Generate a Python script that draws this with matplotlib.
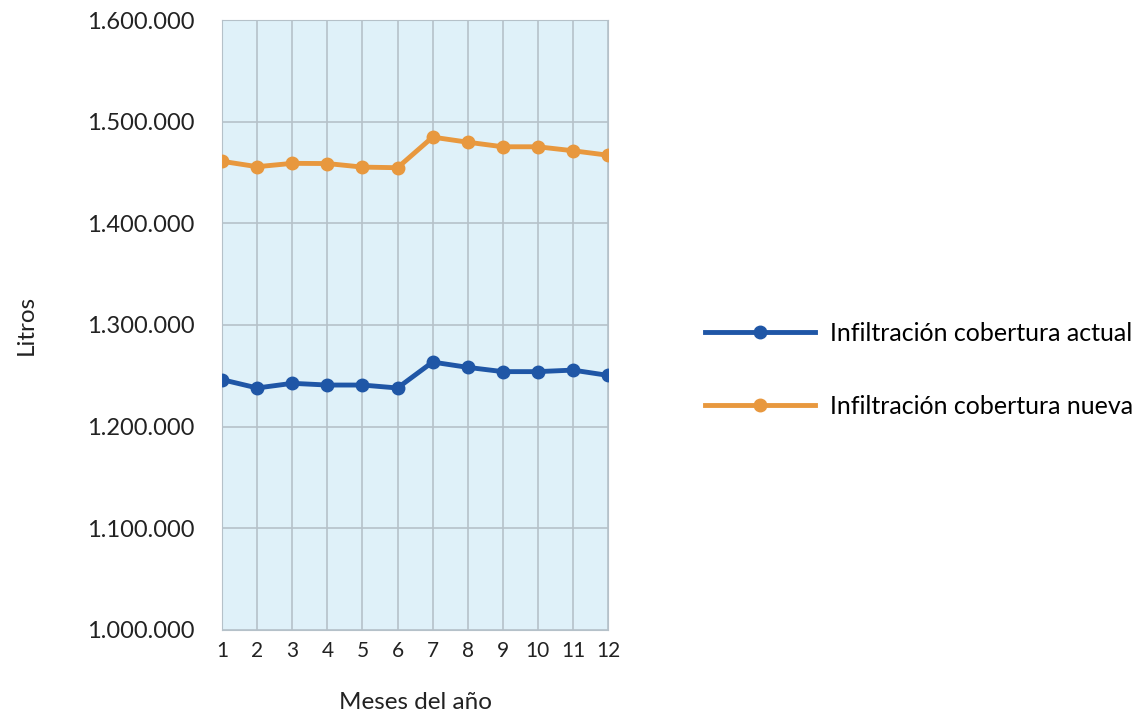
import matplotlib.pyplot as plt
from matplotlib.ticker import FuncFormatter

plt.rcParams['font.family'] = ['Lato', 'DejaVu Sans']

# Data
meses = [1, 2, 3, 4, 5, 6, 7, 8, 9, 10, 11, 12]
cobertura_actual = [1246200, 1238000, 1242600, 1240900, 1240900, 1238000,
                    1263500, 1258300, 1254100, 1254100, 1255600, 1250400]
cobertura_nueva = [1461000, 1455700, 1459000, 1458800, 1455300, 1454700,
                   1484800, 1479800, 1475300, 1475300, 1471400, 1467000]
y_ticks = [1000000, 1100000, 1200000, 1300000, 1400000, 1500000, 1600000]


def miles(v, pos):
    # thousands separator with dots
    return f"{int(v):,}".replace(",", ".")


fig = plt.figure(figsize=(11.45, 7.15), dpi=100)
ax = fig.add_axes([0.194, 0.119, 0.337, 0.853])
ax.set_facecolor('#dff1f9')

ax.plot(meses, cobertura_actual, color='#1f56a6', lw=3.5, marker='o', ms=9,
        label='Infiltración cobertura actual', zorder=3)
ax.plot(meses, cobertura_nueva, color='#e8983e', lw=3.5, marker='o', ms=9,
        label='Infiltración cobertura nueva', zorder=3)

ax.set_xlim(1, 12)
ax.set_ylim(1000000, 1600000)
ax.set_xticks(meses)
ax.set_yticks(y_ticks)
ax.yaxis.set_major_formatter(FuncFormatter(miles))
ax.grid(True, color='#b5c1c9', lw=1.2)
ax.tick_params(axis='both', length=0, colors='#222222')
ax.tick_params(axis='y', labelsize=17, pad=20)
ax.tick_params(axis='x', labelsize=15, pad=8)
for s in ax.spines.values():
    s.set_color('#b5c1c9')

ax.set_xlabel('Meses del año', fontsize=17.5, labelpad=22, color='#222222')
ax.set_ylabel('Litros', fontsize=17.5, labelpad=36, color='#222222')

fig.legend(loc='center left', bbox_to_anchor=(0.616, 0.483), frameon=False,
           fontsize=18, handlelength=4.4, labelspacing=2.0, handletextpad=0.6,
           borderaxespad=0, borderpad=0)

fig.savefig('out.png', dpi=100)
